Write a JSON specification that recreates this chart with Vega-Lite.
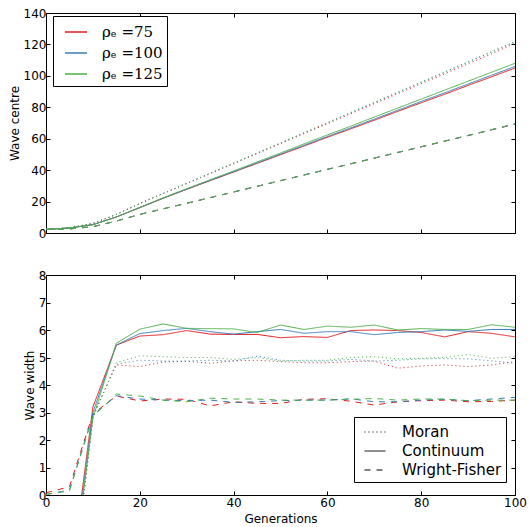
{
"$schema": "https://vega.github.io/schema/vega-lite/v6.json",
"padding": {"left": 7, "top": 6, "right": 0, "bottom": 0},
"spacing": 28,
"config": {
  "font": "DejaVu Sans",
  "view": {"stroke": "black", "strokeWidth": 1},
  "axis": {"grid": false, "domain": false, "labelFlush": false, "tickSize": -4, "tickColor": "black", "tickWidth": 1, "labelColor": "black", "labelFontSize": 12, "titleFontSize": 12, "titleFontWeight": "normal", "titleColor": "black", "labelPadding": 4, "titlePadding": 2, "labelFont": "DejaVu Sans", "titleFont": "DejaVu Sans"}
},
"datasets": {"d": [
{"g":0,"r":"75","m":"Moran","c":2.3,"w":0.02},{"g":5,"r":"75","m":"Moran","c":3.4,"w":-4.5},{"g":10,"r":"75","m":"Moran","c":6.1,"w":2.9},{"g":15,"r":"75","m":"Moran","c":11.8,"w":4.73},{"g":20,"r":"75","m":"Moran","c":18.8,"w":4.67},{"g":25,"r":"75","m":"Moran","c":25.1,"w":4.84},{"g":30,"r":"75","m":"Moran","c":31.4,"w":4.86},{"g":35,"r":"75","m":"Moran","c":37.8,"w":4.79},{"g":40,"r":"75","m":"Moran","c":44.1,"w":4.88},{"g":45,"r":"75","m":"Moran","c":50.5,"w":4.9},{"g":50,"r":"75","m":"Moran","c":56.8,"w":4.85},{"g":55,"r":"75","m":"Moran","c":63.2,"w":4.81},{"g":60,"r":"75","m":"Moran","c":69.5,"w":4.81},{"g":65,"r":"75","m":"Moran","c":75.9,"w":4.85},{"g":70,"r":"75","m":"Moran","c":82.3,"w":4.87},{"g":75,"r":"75","m":"Moran","c":88.6,"w":4.61},{"g":80,"r":"75","m":"Moran","c":95.0,"w":4.69},{"g":85,"r":"75","m":"Moran","c":101.3,"w":4.73},{"g":90,"r":"75","m":"Moran","c":107.7,"w":4.67},{"g":95,"r":"75","m":"Moran","c":114.0,"w":4.73},{"g":100,"r":"75","m":"Moran","c":120.7,"w":4.85},
{"g":0,"r":"75","m":"Continuum","c":2.3,"w":0},{"g":5,"r":"75","m":"Continuum","c":3.2,"w":-3.5},{"g":10,"r":"75","m":"Continuum","c":5.3,"w":3.2},{"g":15,"r":"75","m":"Continuum","c":10.2,"w":5.45},{"g":20,"r":"75","m":"Continuum","c":16.1,"w":5.78},{"g":25,"r":"75","m":"Continuum","c":22.1,"w":5.83},{"g":30,"r":"75","m":"Continuum","c":27.8,"w":5.98},{"g":35,"r":"75","m":"Continuum","c":33.3,"w":5.85},{"g":40,"r":"75","m":"Continuum","c":38.8,"w":5.84},{"g":45,"r":"75","m":"Continuum","c":44.3,"w":5.84},{"g":50,"r":"75","m":"Continuum","c":49.8,"w":5.72},{"g":55,"r":"75","m":"Continuum","c":55.3,"w":5.76},{"g":60,"r":"75","m":"Continuum","c":60.9,"w":5.73},{"g":65,"r":"75","m":"Continuum","c":66.3,"w":5.98},{"g":70,"r":"75","m":"Continuum","c":71.8,"w":6.0},{"g":75,"r":"75","m":"Continuum","c":77.4,"w":5.98},{"g":80,"r":"75","m":"Continuum","c":82.9,"w":5.91},{"g":85,"r":"75","m":"Continuum","c":88.3,"w":5.75},{"g":90,"r":"75","m":"Continuum","c":93.9,"w":5.94},{"g":95,"r":"75","m":"Continuum","c":99.4,"w":5.88},{"g":100,"r":"75","m":"Continuum","c":105.0,"w":5.75},
{"g":0,"r":"75","m":"Wright-Fisher","c":2.3,"w":0.08},{"g":5,"r":"75","m":"Wright-Fisher","c":2.6,"w":0.3},{"g":10,"r":"75","m":"Wright-Fisher","c":4.0,"w":2.95},{"g":15,"r":"75","m":"Wright-Fisher","c":7.6,"w":3.6},{"g":20,"r":"75","m":"Wright-Fisher","c":11.8,"w":3.42},{"g":25,"r":"75","m":"Wright-Fisher","c":15.4,"w":3.49},{"g":30,"r":"75","m":"Wright-Fisher","c":18.9,"w":3.48},{"g":35,"r":"75","m":"Wright-Fisher","c":22.5,"w":3.24},{"g":40,"r":"75","m":"Wright-Fisher","c":26.1,"w":3.39},{"g":45,"r":"75","m":"Wright-Fisher","c":29.7,"w":3.33},{"g":50,"r":"75","m":"Wright-Fisher","c":33.3,"w":3.33},{"g":55,"r":"75","m":"Wright-Fisher","c":36.9,"w":3.48},{"g":60,"r":"75","m":"Wright-Fisher","c":40.5,"w":3.5},{"g":65,"r":"75","m":"Wright-Fisher","c":44.0,"w":3.41},{"g":70,"r":"75","m":"Wright-Fisher","c":47.6,"w":3.27},{"g":75,"r":"75","m":"Wright-Fisher","c":51.2,"w":3.39},{"g":80,"r":"75","m":"Wright-Fisher","c":54.8,"w":3.43},{"g":85,"r":"75","m":"Wright-Fisher","c":58.4,"w":3.45},{"g":90,"r":"75","m":"Wright-Fisher","c":62.0,"w":3.39},{"g":95,"r":"75","m":"Wright-Fisher","c":65.6,"w":3.4},{"g":100,"r":"75","m":"Wright-Fisher","c":69.3,"w":3.45},
{"g":0,"r":"100","m":"Moran","c":2.3,"w":0.02},{"g":5,"r":"100","m":"Moran","c":3.4,"w":-4.5},{"g":10,"r":"100","m":"Moran","c":6.1,"w":2.85},{"g":15,"r":"100","m":"Moran","c":11.8,"w":4.76},{"g":20,"r":"100","m":"Moran","c":18.8,"w":4.9},{"g":25,"r":"100","m":"Moran","c":25.2,"w":4.87},{"g":30,"r":"100","m":"Moran","c":31.6,"w":4.87},{"g":35,"r":"100","m":"Moran","c":38.0,"w":4.9},{"g":40,"r":"100","m":"Moran","c":44.4,"w":4.87},{"g":45,"r":"100","m":"Moran","c":50.8,"w":5.05},{"g":50,"r":"100","m":"Moran","c":57.2,"w":4.9},{"g":55,"r":"100","m":"Moran","c":63.7,"w":4.87},{"g":60,"r":"100","m":"Moran","c":70.1,"w":4.87},{"g":65,"r":"100","m":"Moran","c":76.5,"w":4.93},{"g":70,"r":"100","m":"Moran","c":82.9,"w":4.87},{"g":75,"r":"100","m":"Moran","c":89.4,"w":4.9},{"g":80,"r":"100","m":"Moran","c":95.8,"w":4.95},{"g":85,"r":"100","m":"Moran","c":102.2,"w":4.96},{"g":90,"r":"100","m":"Moran","c":108.7,"w":4.95},{"g":95,"r":"100","m":"Moran","c":115.1,"w":4.88},{"g":100,"r":"100","m":"Moran","c":121.5,"w":4.79},
{"g":0,"r":"100","m":"Continuum","c":2.3,"w":0},{"g":5,"r":"100","m":"Continuum","c":3.2,"w":-3.8},{"g":10,"r":"100","m":"Continuum","c":5.3,"w":3.0},{"g":15,"r":"100","m":"Continuum","c":10.2,"w":5.45},{"g":20,"r":"100","m":"Continuum","c":16.2,"w":5.87},{"g":25,"r":"100","m":"Continuum","c":22.2,"w":5.98},{"g":30,"r":"100","m":"Continuum","c":27.9,"w":6.06},{"g":35,"r":"100","m":"Continuum","c":33.5,"w":5.94},{"g":40,"r":"100","m":"Continuum","c":39.0,"w":5.85},{"g":45,"r":"100","m":"Continuum","c":44.6,"w":5.94},{"g":50,"r":"100","m":"Continuum","c":50.2,"w":6.02},{"g":55,"r":"100","m":"Continuum","c":55.8,"w":5.88},{"g":60,"r":"100","m":"Continuum","c":61.4,"w":5.94},{"g":65,"r":"100","m":"Continuum","c":66.9,"w":5.94},{"g":70,"r":"100","m":"Continuum","c":72.5,"w":5.83},{"g":75,"r":"100","m":"Continuum","c":78.1,"w":5.91},{"g":80,"r":"100","m":"Continuum","c":83.7,"w":5.94},{"g":85,"r":"100","m":"Continuum","c":89.2,"w":6.0},{"g":90,"r":"100","m":"Continuum","c":94.8,"w":5.95},{"g":95,"r":"100","m":"Continuum","c":100.4,"w":6.02},{"g":100,"r":"100","m":"Continuum","c":106.0,"w":6.02},
{"g":0,"r":"100","m":"Wright-Fisher","c":2.3,"w":0.02},{"g":5,"r":"100","m":"Wright-Fisher","c":2.6,"w":0.18},{"g":10,"r":"100","m":"Wright-Fisher","c":4.0,"w":2.9},{"g":15,"r":"100","m":"Wright-Fisher","c":7.6,"w":3.61},{"g":20,"r":"100","m":"Wright-Fisher","c":11.8,"w":3.49},{"g":25,"r":"100","m":"Wright-Fisher","c":15.4,"w":3.45},{"g":30,"r":"100","m":"Wright-Fisher","c":18.9,"w":3.43},{"g":35,"r":"100","m":"Wright-Fisher","c":22.5,"w":3.45},{"g":40,"r":"100","m":"Wright-Fisher","c":26.1,"w":3.37},{"g":45,"r":"100","m":"Wright-Fisher","c":29.7,"w":3.39},{"g":50,"r":"100","m":"Wright-Fisher","c":33.3,"w":3.43},{"g":55,"r":"100","m":"Wright-Fisher","c":36.9,"w":3.45},{"g":60,"r":"100","m":"Wright-Fisher","c":40.5,"w":3.45},{"g":65,"r":"100","m":"Wright-Fisher","c":44.1,"w":3.5},{"g":70,"r":"100","m":"Wright-Fisher","c":47.7,"w":3.39},{"g":75,"r":"100","m":"Wright-Fisher","c":51.3,"w":3.39},{"g":80,"r":"100","m":"Wright-Fisher","c":54.9,"w":3.45},{"g":85,"r":"100","m":"Wright-Fisher","c":58.5,"w":3.48},{"g":90,"r":"100","m":"Wright-Fisher","c":62.1,"w":3.43},{"g":95,"r":"100","m":"Wright-Fisher","c":65.7,"w":3.49},{"g":100,"r":"100","m":"Wright-Fisher","c":69.4,"w":3.55},
{"g":0,"r":"125","m":"Moran","c":2.3,"w":0.02},{"g":5,"r":"125","m":"Moran","c":3.4,"w":-4.5},{"g":10,"r":"125","m":"Moran","c":6.1,"w":2.8},{"g":15,"r":"125","m":"Moran","c":11.8,"w":4.81},{"g":20,"r":"125","m":"Moran","c":18.8,"w":5.06},{"g":25,"r":"125","m":"Moran","c":25.2,"w":5.03},{"g":30,"r":"125","m":"Moran","c":31.6,"w":5.0},{"g":35,"r":"125","m":"Moran","c":38.1,"w":5.0},{"g":40,"r":"125","m":"Moran","c":44.5,"w":4.93},{"g":45,"r":"125","m":"Moran","c":51.0,"w":5.0},{"g":50,"r":"125","m":"Moran","c":57.4,"w":4.87},{"g":55,"r":"125","m":"Moran","c":63.9,"w":4.9},{"g":60,"r":"125","m":"Moran","c":70.3,"w":4.9},{"g":65,"r":"125","m":"Moran","c":76.8,"w":5.0},{"g":70,"r":"125","m":"Moran","c":83.2,"w":5.03},{"g":75,"r":"125","m":"Moran","c":89.7,"w":4.95},{"g":80,"r":"125","m":"Moran","c":96.1,"w":4.97},{"g":85,"r":"125","m":"Moran","c":102.6,"w":5.0},{"g":90,"r":"125","m":"Moran","c":109.0,"w":5.11},{"g":95,"r":"125","m":"Moran","c":115.5,"w":4.97},{"g":100,"r":"125","m":"Moran","c":121.9,"w":5.03},
{"g":0,"r":"125","m":"Continuum","c":2.3,"w":0},{"g":5,"r":"125","m":"Continuum","c":3.2,"w":-3.9},{"g":10,"r":"125","m":"Continuum","c":5.3,"w":2.8},{"g":15,"r":"125","m":"Continuum","c":10.2,"w":5.52},{"g":20,"r":"125","m":"Continuum","c":16.3,"w":6.03},{"g":25,"r":"125","m":"Continuum","c":22.4,"w":6.22},{"g":30,"r":"125","m":"Continuum","c":28.2,"w":6.06},{"g":35,"r":"125","m":"Continuum","c":33.9,"w":6.05},{"g":40,"r":"125","m":"Continuum","c":39.5,"w":6.04},{"g":45,"r":"125","m":"Continuum","c":45.2,"w":5.91},{"g":50,"r":"125","m":"Continuum","c":50.9,"w":6.18},{"g":55,"r":"125","m":"Continuum","c":56.7,"w":6.02},{"g":60,"r":"125","m":"Continuum","c":62.4,"w":6.14},{"g":65,"r":"125","m":"Continuum","c":68.0,"w":6.1},{"g":70,"r":"125","m":"Continuum","c":73.8,"w":6.18},{"g":75,"r":"125","m":"Continuum","c":79.5,"w":6.0},{"g":80,"r":"125","m":"Continuum","c":85.2,"w":6.05},{"g":85,"r":"125","m":"Continuum","c":90.9,"w":6.02},{"g":90,"r":"125","m":"Continuum","c":96.6,"w":6.02},{"g":95,"r":"125","m":"Continuum","c":102.3,"w":6.19},{"g":100,"r":"125","m":"Continuum","c":108.0,"w":6.1},
{"g":0,"r":"125","m":"Wright-Fisher","c":2.3,"w":0.02},{"g":5,"r":"125","m":"Wright-Fisher","c":2.6,"w":0.15},{"g":10,"r":"125","m":"Wright-Fisher","c":4.0,"w":2.85},{"g":15,"r":"125","m":"Wright-Fisher","c":7.6,"w":3.67},{"g":20,"r":"125","m":"Wright-Fisher","c":11.8,"w":3.6},{"g":25,"r":"125","m":"Wright-Fisher","c":15.4,"w":3.45},{"g":30,"r":"125","m":"Wright-Fisher","c":18.9,"w":3.39},{"g":35,"r":"125","m":"Wright-Fisher","c":22.5,"w":3.52},{"g":40,"r":"125","m":"Wright-Fisher","c":26.1,"w":3.49},{"g":45,"r":"125","m":"Wright-Fisher","c":29.7,"w":3.49},{"g":50,"r":"125","m":"Wright-Fisher","c":33.3,"w":3.45},{"g":55,"r":"125","m":"Wright-Fisher","c":36.9,"w":3.45},{"g":60,"r":"125","m":"Wright-Fisher","c":40.5,"w":3.45},{"g":65,"r":"125","m":"Wright-Fisher","c":44.1,"w":3.48},{"g":70,"r":"125","m":"Wright-Fisher","c":47.7,"w":3.51},{"g":75,"r":"125","m":"Wright-Fisher","c":51.3,"w":3.45},{"g":80,"r":"125","m":"Wright-Fisher","c":54.9,"w":3.49},{"g":85,"r":"125","m":"Wright-Fisher","c":58.5,"w":3.49},{"g":90,"r":"125","m":"Wright-Fisher","c":62.1,"w":3.43},{"g":95,"r":"125","m":"Wright-Fisher","c":65.8,"w":3.45},{"g":100,"r":"125","m":"Wright-Fisher","c":69.5,"w":3.45}
]},
"resolve": {"scale": {"color": "independent", "strokeDash": "independent"}, "legend": {"color": "independent", "strokeDash": "independent"}},
"vconcat": [
{
  "width": 469, "height": 220,
  "data": {"name": "d"},
  "layer": [
    {"mark": {"type": "line", "strokeWidth": 1, "clip": true},
     "encoding": {
       "x": {"field": "g", "type": "quantitative", "scale": {"domain": [0, 100], "nice": false}, "axis": {"orient": "bottom", "labels": false, "title": null, "values": [0, 20, 40, 60, 80, 100]}},
       "y": {"field": "c", "type": "quantitative", "scale": {"domain": [0, 140], "nice": false}, "axis": {"orient": "left", "title": "Wave centre", "values": [0, 20, 40, 60, 80, 100, 120, 140]}},
       "color": {"field": "r", "type": "nominal", "scale": {"domain": ["75", "100", "125"], "range": ["#e41a1c", "#377eb8", "#4daf4a"]},
         "legend": {"orient": "none", "legendX": 7, "legendY": 3, "title": null, "symbolType": "stroke", "symbolSize": 484, "symbolStrokeWidth": 1.5, "symbolOffset": 7, "labelOffset": 14, "rowPadding": 1, "padding": 4, "labelFontSize": 15, "labelFont": "DejaVu Serif", "labelColor": "black", "strokeColor": "black", "fillColor": "white", "labelExpr": "'ρₑ =' + datum.label"}},
       "strokeDash": {"field": "m", "type": "nominal", "scale": {"domain": ["Moran", "Continuum", "Wright-Fisher"], "range": [[1, 3], [1, 0], [6, 6]]}, "legend": null}
     }},
    {"mark": {"type": "point", "opacity": 0, "clip": true},
     "encoding": {
       "x": {"field": "g", "type": "quantitative", "axis": {"orient": "top", "labels": false, "title": null, "values": [0, 20, 40, 60, 80, 100]}},
       "y": {"field": "c", "type": "quantitative", "axis": {"orient": "right", "labels": false, "title": null, "values": [0, 20, 40, 60, 80, 100, 120, 140]}}
     }}
  ],
  "resolve": {"axis": {"x": "independent", "y": "independent"}}
},
{
  "width": 469, "height": 220,
  "data": {"name": "d"},
  "layer": [
    {"mark": {"type": "line", "strokeWidth": 1, "clip": true},
     "encoding": {
       "x": {"field": "g", "type": "quantitative", "scale": {"domain": [0, 100], "nice": false}, "axis": {"orient": "bottom", "title": "Generations", "labelPadding": 6, "titlePadding": 5, "values": [0, 20, 40, 60, 80, 100]}},
       "y": {"field": "w", "type": "quantitative", "scale": {"domain": [0, 8], "nice": false}, "axis": {"orient": "left", "title": "Wave width", "values": [0, 1, 2, 3, 4, 5, 6, 7, 8]}},
       "color": {"field": "r", "type": "nominal", "scale": {"domain": ["75", "100", "125"], "range": ["#e41a1c", "#377eb8", "#4daf4a"]}, "legend": null},
       "strokeDash": {"field": "m", "type": "nominal", "scale": {"domain": ["Moran", "Continuum", "Wright-Fisher"], "range": [[1, 3], [1, 0], [6, 6]]},
         "legend": {"orient": "none", "legendX": 308, "legendY": 142, "title": null, "symbolType": "stroke", "symbolSize": 441, "symbolStrokeWidth": 1, "symbolStrokeColor": "black", "symbolOffset": 6, "labelOffset": 16, "rowPadding": 0, "padding": 4, "labelFontSize": 15, "labelColor": "black", "strokeColor": "black", "fillColor": "white"}}
     }},
    {"mark": {"type": "point", "opacity": 0, "clip": true},
     "encoding": {
       "x": {"field": "g", "type": "quantitative", "axis": {"orient": "top", "labels": false, "title": null, "values": [0, 20, 40, 60, 80, 100]}},
       "y": {"field": "w", "type": "quantitative", "axis": {"orient": "right", "labels": false, "title": null, "values": [0, 1, 2, 3, 4, 5, 6, 7, 8]}}
     }}
  ],
  "resolve": {"axis": {"x": "independent", "y": "independent"}}
}
]
}
